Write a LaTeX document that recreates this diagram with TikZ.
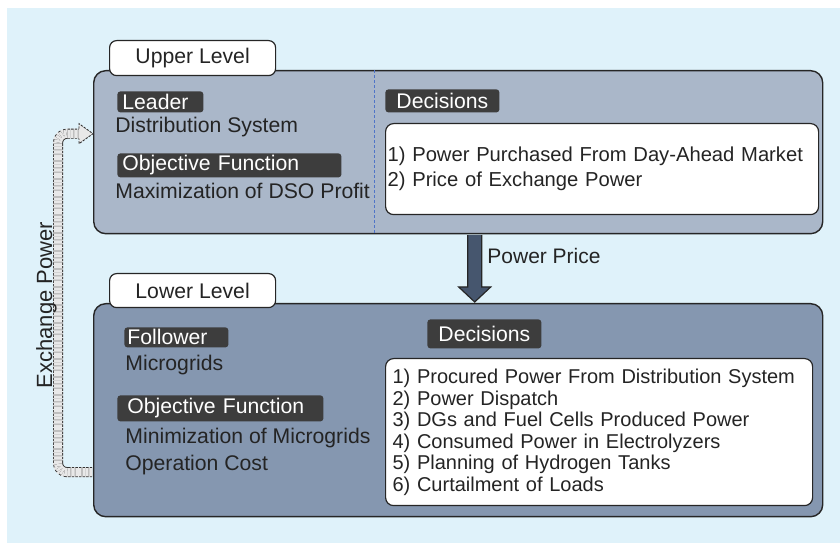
\documentclass[tikz,border=0pt]{standalone}
\usepackage{fontspec}
\setmainfont{Liberation Sans}
\usetikzlibrary{positioning}
\usetikzlibrary{calc}

\definecolor{paneblue}{HTML}{DFF2FA}
\definecolor{upfill}{HTML}{AAB7C9}
\definecolor{lowfill}{HTML}{8597B0}
\definecolor{tagdark}{HTML}{3D3D3D}
\definecolor{slate}{HTML}{46566E}
\definecolor{exgray}{HTML}{E8E8E8}
\definecolor{divblue}{HTML}{4F74C8}
\definecolor{textgray}{HTML}{242424}

\begin{document}
\begin{tikzpicture}[
			x=0.5pt, y=-0.5pt,
			every node/.style={font=\fontsize{10.6}{12.5}\selectfont, text=textgray},
			stage/.style={rectangle, rounded corners=6pt, draw=black!85, line width=0.7pt, anchor=north west, inner sep=0pt, minimum width=364.5pt},
			tab/.style={rectangle, rounded corners=3.5pt, draw=black!85, line width=0.6pt, fill=white, anchor=north west, minimum width=83pt, minimum height=17.5pt, inner sep=0pt},
			tag/.style={rectangle, rounded corners=1.5pt, fill=tagdark, text=white, anchor=north west, inner ysep=0pt, inner xsep=2.5pt, text width=#1, align=left},
			list/.style={rectangle, rounded corners=4pt, draw=black!85, line width=0.6pt, fill=white, anchor=north west, inner ysep=0pt, align=left},
			plain/.style={anchor=base west, inner sep=0pt, align=left},
			price/.style={draw=black!85, line width=0.6pt, fill=slate},
			exband/.style={line width=5pt, draw=exgray, rounded corners=4.5pt, shorten <=0.4pt},
			exedge/.style={dash pattern=on 1.2pt off 0.6pt, line width=0.45pt, draw=black!80, double=exgray, double distance=4.1pt, rounded corners=4.5pt, shorten <=0.4pt},
			exhead/.style={dash pattern=on 1.2pt off 0.6pt, line width=0.45pt, draw=black!80, fill=exgray},
			divline/.style={dash pattern=on 1.5pt off 1pt, draw=divblue, line width=0.4pt},
			]
			
			\useasboundingbox (0,0) rectangle (840,544);
			\fill[paneblue] (7,8) rectangle (840,543);
			
			% the two levels
			\node[stage, fill=upfill, minimum height=81.5pt]  (up_box)  at (93,70)  {};
			\node[stage, fill=lowfill, minimum height=106.5pt] (low_box) at (93,303) {};
			\node[tab] (up_tab)  at (109,40)  {Upper Level};
			\node[tab, minimum height=17pt] (low_tab) at (109,273) {Lower Level};
			
			\draw[divline] ($(up_box.north west)+(281,0)$) -- ($(up_box.south west)+(281,0)$);
			
			% leader side
			\node[tag=38pt, minimum height=10.5pt]  (leader_tag) at (117,91)  {Leader};
			\node[plain] (leader_txt) at (115,133) {Distribution System};
			\node[tag=107pt, minimum height=12pt]   (up_obj_tag) at (117,153) {Objective Function};
			\node[plain] (up_obj_txt) at (115,199) {Maximization of DSO Profit};
			\node[tag=52pt, align=center, minimum height=11.5pt] (up_dec_tag) at (385,89) {Decisions};
			\node[list, inner xsep=1pt, text width=214.5pt, minimum height=45.5pt, font=\fontsize{10.1}{12.5}\selectfont] (up_dec) at (385,123)
				{1) Power Purchased From Day-Ahead Market\\2) Price of Exchange Power};
			
			% follower side
			\node[tag=49pt, inner xsep=1.5pt, minimum height=10pt] (follower_tag) at (124,327) {Follower};
			\node[plain] (follower_txt) at (125,371) {Microgrids};
			\node[tag=93pt, inner xsep=5pt, minimum height=13pt]  (low_obj_tag) at (117,395) {Objective Function};
			\node[plain, font=\fontsize{10.6}{13.35}\selectfont] (low_obj_txt) at (125,470.7) {Minimization of Microgrids\\Operation Cost};
			\node[tag=52pt, align=center, minimum height=14.5pt] (low_dec_tag) at (427,319) {Decisions};
			\node[list, inner xsep=3.5pt, text width=206.5pt, minimum height=73.5pt, font=\fontsize{10}{10.75}\selectfont] (low_dec) at (385,358)
				{1) Procured Power From Distribution System\\2) Power Dispatch\\3) DGs and Fuel Cells Produced Power\\4) Consumed Power in Electrolyzers\\5) Planning of Hydrogen Tanks\\6) Curtailment of Loads};
			
			% power price passed down
			\coordinate (price_top) at ($(up_box.south)+(16.5,0.7)$);
			\coordinate (price_tip) at ($(low_box.north)+(16.5,-1)$);
			\draw[price] ($(price_top)+(-7,0)$) -- ($(price_tip)+(-7,-15)$) -- ++(-9,0) -- (price_tip) -- ++(16,-15) -- ++(-9,0) -- ($(price_top)+(7,0)$);
			\node[plain, font=\fontsize{10.5}{12}\selectfont] (price_lbl) at (487,264) {Power Price};
			
			% exchange power passed back up
			\coordinate (ex_out) at ($(low_box.west)+(0,62)$);
			\coordinate (ex_in)  at ($(up_box.west)+(0,-18.5)$);
			\draw[exband] (ex_out) -| ($(ex_in)+(-35,0)$) -- ($(ex_in)+(-14,0)$);
			\draw[exedge] (ex_out) -| ($(ex_in)+(-35,0)$) -- ($(ex_in)+(-14,0)$);
			\filldraw[exhead] ($(ex_in)+(-14,-5)$) -- ++(0,-5) -- (ex_in) -- ++(-14,10) -- ++(0,-5);
			\node[rotate=90, anchor=base, inner sep=0pt, font=\fontsize{11}{13}\selectfont] (ex_lbl) at (52,305) {Exchange Power};
			
			\end{tikzpicture}
\end{document}
